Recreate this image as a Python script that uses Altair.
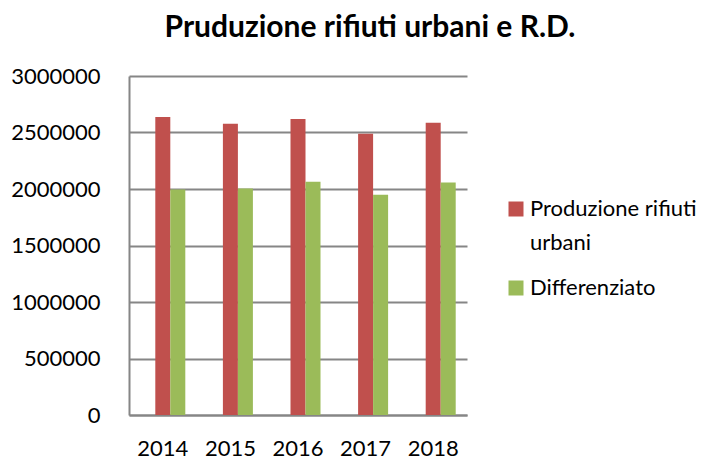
import altair as alt
import pandas as pd

years = ["2014", "2015", "2016", "2017", "2018"]
produzione = [2637000, 2578000, 2619000, 2489000, 2587000]
differenziato = [1996000, 2005000, 2065000, 1950000, 2058000]
series_names = ["Produzione rifiuti urbani", "Differenziato"]
series_colors = ["#C0504D", "#9BBB59"]
y_ticks = [0, 500000, 1000000, 1500000, 2000000, 2500000, 3000000]

rows = []
for i, y in enumerate(years):
    rows.append({"anno": y, "serie": series_names[0], "valore": produzione[i]})
    rows.append({"anno": y, "serie": series_names[1], "valore": differenziato[i]})
df = pd.DataFrame(rows)

FONT = "Lato"

chart = alt.Chart(df).mark_bar().encode(
    x=alt.X("anno:N", sort=years,
            scale=alt.Scale(paddingInner=0, paddingOuter=0),
            axis=alt.Axis(title=None, labelAngle=0, ticks=False, domainColor="#868686",
                          domainWidth=2, labelFontSize=22, labelColor="#000000",
                          labelPadding=23, labelFont=FONT)),
    xOffset=alt.XOffset("serie:N",
                        scale=alt.Scale(domain=["_"] + series_names,
                                        paddingInner=0, paddingOuter=0.753)),
    y=alt.Y("valore:Q",
            scale=alt.Scale(domain=[0, 3000000], nice=False),
            axis=alt.Axis(title=None, values=y_ticks, format="d", ticks=False,
                          grid=True, gridColor="#868686", gridWidth=2,
                          domainColor="#868686", domainWidth=2,
                          labelFontSize=22, labelColor="#000000",
                          labelPadding=29, labelFont=FONT)),
    color=alt.Color("serie:N",
                    scale=alt.Scale(domain=series_names, range=series_colors),
                    legend=alt.Legend(title=None, orient="none", legendX=376, legendY=122,
                                      symbolType="square", symbolSize=225,
                                      symbolStrokeWidth=0,
                                      labelFontSize=22, labelFont=FONT,
                                      labelColor="#000000", rowPadding=23,
                                      labelOffset=3, labelLimit=300,
                                      labelExpr="datum.label == 'Produzione rifiuti urbani' ? ['Produzione rifiuti', 'urbani'] : datum.label")),
).properties(
    width=338,
    height=339,
    title=alt.TitleParams("Pruduzione rifiuti urbani e R.D.", fontSize=30,
                          font=FONT, fontWeight="bold", color="#000000",
                          anchor="middle", dx=72, offset=22),
    padding={"left": 121, "top": 68, "right": 245, "bottom": 50},
    autosize="none",
).configure(
    style={"guide-label": {"lineHeight": 34}},
    view=alt.ViewConfig(stroke=None),
)

chart.save("out.html", embed_options={"renderer": "svg", "actions": False})
